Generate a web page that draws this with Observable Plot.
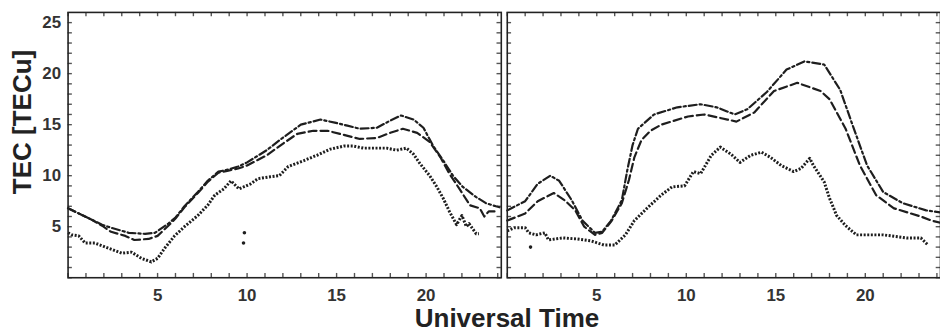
<!DOCTYPE html>
<html>
<head>
<meta charset="utf-8">
<script src="https://cdn.jsdelivr.net/npm/d3@7"></script>
<script src="https://cdn.jsdelivr.net/npm/@observablehq/plot@0.6"></script>
<style>
  html, body { margin: 0; padding: 0; background: #fff; overflow: hidden; }
  #wrap { position: relative; width: 940px; height: 332px; overflow: hidden; font-family: "Liberation Sans", Arial, sans-serif; }
  #chart { position: absolute; left: 0; top: 0; }
  #ylab { position: absolute; left: 22px; top: 122px; transform: translate(-50%, -50%) rotate(-90deg); font-size: 26px; font-weight: bold; color: #222; white-space: nowrap; line-height: 26px; }
  #xlab { position: absolute; left: 507px; top: 305px; transform: translateX(-50%); font-size: 26px; font-weight: bold; color: #222; white-space: nowrap; line-height: 26px; }
</style>
</head>
<body>
<div id="wrap">
  <div id="chart"></div>
  <div id="ylab">TEC [TECu]</div>
  <div id="xlab">Universal Time</div>
</div>
<script>
// ---- data: [hour (UT), TEC (TECu)] ----
const panels = ["L", "R"];
const xTickLabels = [5, 10, 15, 20];
const yTickLabels = [5, 10, 15, 20, 25];
const xMinorTicks = d3.range(0, 25);
const yMinorTicks = d3.range(0, 26);

const leftDotted = [[0,4.4],[0.2,4.2],[0.6,4.1],[0.95,3.4],[1.5,3.4],[2.25,2.9],[3.0,2.4],[3.55,2.5],[4.1,1.9],[4.65,1.55],[5.0,1.9],[5.4,2.9],[5.95,4.1],[6.5,5.0],[7.25,6.1],[7.8,7.1],[8.2,8.1],[8.7,8.7],[9.1,9.5],[9.55,8.7],[10.2,9.2],[10.6,9.7],[11.3,9.9],[11.8,10.0],[12.3,10.9],[13.2,11.5],[13.9,12.0],[14.65,12.6],[15.4,12.9],[15.95,12.9],[16.5,12.7],[17.8,12.7],[18.35,12.5],[18.9,12.7],[19.3,12.1],[19.65,11.2],[20.2,10.0],[20.6,8.9],[20.95,7.8],[21.3,6.5],[21.7,5.2],[22.0,6.1],[22.25,5.0],[22.4,5.3],[22.8,4.3],[22.95,4.3]];
const leftDashDot = [[0,6.8],[0.6,6.3],[1.3,5.7],[1.9,5.2],[2.4,4.9],[3.4,4.4],[4.3,4.3],[4.85,4.4],[5.6,5.3],[6.0,5.9],[6.5,7.0],[7.25,8.4],[7.8,9.5],[8.4,10.4],[8.95,10.6],[9.5,10.9],[10.0,11.3],[11.1,12.5],[11.9,13.6],[13.0,15.0],[14.1,15.5],[14.9,15.2],[15.6,14.9],[16.3,14.6],[17.25,14.7],[18.0,15.4],[18.6,15.9],[19.3,15.5],[19.85,14.7],[20.4,12.9],[20.95,11.5],[21.5,10.0],[22.05,8.9],[22.8,7.9],[23.35,7.3],[23.9,7.0],[24.1,6.9]];
const leftDashed = [[0,6.8],[0.6,6.3],[1.3,5.7],[1.9,5.1],[2.4,4.5],[3.2,4.1],[3.7,3.7],[4.5,3.8],[5.0,4.1],[5.6,5.1],[6.0,5.8],[6.5,6.9],[7.25,8.3],[7.8,9.4],[8.4,10.3],[8.95,10.5],[9.5,10.7],[10.0,11.0],[11.1,12.0],[12.05,13.2],[12.8,14.1],[13.7,14.4],[14.5,14.4],[15.4,14.0],[16.3,13.6],[17.25,13.7],[18.0,14.2],[18.7,14.6],[19.5,14.2],[20.2,13.3],[20.8,11.8],[21.3,10.2],[21.9,8.6],[22.45,7.1],[23.0,6.8],[23.25,6.0],[23.5,6.5],[23.9,6.5]];
const leftOutliers = [[9.85,4.4],[9.8,3.4]];

const rightDotted = [[0,4.6],[0.4,4.9],[1.0,4.9],[1.2,4.4],[1.6,4.2],[2.1,4.4],[2.3,3.7],[3.1,3.9],[3.9,3.8],[4.7,3.6],[5.4,3.2],[6.0,3.2],[6.6,4.2],[7.1,5.6],[7.8,6.8],[8.6,8.1],[9.2,8.9],[9.9,9.0],[10.4,10.4],[10.8,10.2],[11.4,12.0],[11.9,12.8],[12.5,12.1],[13.0,11.3],[13.6,12.0],[14.2,12.3],[14.7,11.8],[15.3,11.0],[16.0,10.4],[16.4,10.7],[16.9,11.7],[17.1,11.0],[17.7,9.4],[18.0,7.8],[18.4,6.1],[18.9,5.1],[19.5,4.2],[20.3,4.2],[21.0,4.2],[22.3,3.9],[23.1,3.9],[23.5,3.2]];
const rightDashed = [[0,5.6],[1.0,6.3],[1.7,7.5],[2.6,8.3],[3.2,7.6],[3.8,6.6],[4.3,5.0],[4.9,4.2],[5.3,4.4],[5.8,5.5],[6.4,7.3],[6.8,9.6],[7.1,11.8],[7.5,13.5],[8.0,14.4],[8.6,15.0],[10.1,15.8],[11.0,16.0],[12.3,15.5],[12.8,15.3],[13.8,16.2],[14.9,18.3],[16.2,19.1],[17.5,18.3],[18.0,17.5],[18.9,14.6],[19.7,11.0],[20.6,8.1],[21.6,6.8],[23.1,6.0],[23.7,5.6],[24.2,5.4]];
const rightDashDot = [[0,6.6],[1.0,7.5],[1.7,9.2],[2.4,10.0],[2.9,9.5],[3.6,7.6],[4.2,5.6],[4.9,4.4],[5.3,4.5],[5.8,5.6],[6.4,7.6],[6.7,10.5],[7.0,13.0],[7.3,14.6],[8.2,16.0],[9.5,16.7],[10.8,17.0],[11.7,16.7],[12.7,16.0],[13.4,16.5],[14.5,18.2],[15.6,20.4],[16.6,21.2],[17.7,20.9],[18.6,18.4],[19.3,14.9],[20.1,11.0],[21.0,8.4],[22.1,7.3],[23.4,6.6],[24.2,6.4]];
const rightOutliers = [[1.3,3.0]];

// ---- build tables ----
const toRows = (panel, arr) => arr.map(([hour, tec]) => ({panel, hour, tec}));
const dotted = [...toRows("L", leftDotted), ...toRows("R", rightDotted)];
const dashed = [...toRows("L", leftDashed), ...toRows("R", rightDashed)];
const dashDot = [...toRows("L", leftDashDot), ...toRows("R", rightDashDot)];
const outliers = [...toRows("L", leftOutliers), ...toRows("R", rightOutliers)];
const xTickRows = panels.flatMap(panel => xMinorTicks.map(v => ({panel, v})));
const yTickRows = panels.flatMap(panel => yMinorTicks.map(v => ({panel, v})));

const ink = "#1e1e1e";
const tickInk = "#555";
const labelStyle = {fontSize: 17, fontWeight: "bold", fill: "#333"};
const xMax = 24.2, yMax = 26;
const tx = 0.24, ty = 0.42; // inward tick length in data units (~4px)

const chart = Plot.plot({
  width: 946,
  height: 332,
  marginLeft: 68,
  marginRight: 0,
  marginTop: 12,
  marginBottom: 53,
  style: {fontFamily: "'Liberation Sans', Arial, sans-serif", background: "#fff"},
  x: {domain: [0, xMax]},
  y: {domain: [0, yMax]},
  fx: {domain: panels, axis: null, paddingInner: 0.0136, paddingOuter: 0, round: false},
  marks: [
    // inward minor ticks on the four sides of each panel
    Plot.ruleX(xTickRows, {x: "v", fx: "panel", y1: 0, y2: ty, stroke: tickInk, strokeWidth: 1.4}),
    Plot.ruleX(xTickRows, {x: "v", fx: "panel", y1: yMax - ty, y2: yMax, stroke: tickInk, strokeWidth: 1.4}),
    Plot.ruleY(yTickRows, {y: "v", fx: "panel", x1: 0, x2: tx, stroke: tickInk, strokeWidth: 1.4}),
    Plot.ruleY(yTickRows, {y: "v", fx: "panel", x1: xMax - tx, x2: xMax, stroke: tickInk, strokeWidth: 1.4}),
    // tick labels
    Plot.axisX({anchor: "bottom", ticks: xTickLabels, tickSize: 0, tickPadding: 11, ...labelStyle, label: null}),
    Plot.axisY({anchor: "left", ticks: yTickLabels, tickSize: 0, tickPadding: 7, ...labelStyle, label: null}),
    // data
    Plot.line(dashDot, {x: "hour", y: "tec", fx: "panel", stroke: ink, strokeWidth: 2.2, strokeDasharray: "8,3,2.2,3"}),
    Plot.line(dashed, {x: "hour", y: "tec", fx: "panel", stroke: ink, strokeWidth: 2.2, strokeDasharray: "8,4"}),
    Plot.line(dotted, {x: "hour", y: "tec", fx: "panel", stroke: ink, strokeWidth: 3, strokeDasharray: "2,1.6", strokeLinecap: "butt"}),
    Plot.dot(outliers, {x: "hour", y: "tec", fx: "panel", r: 1.8, fill: ink}),
    Plot.frame({stroke: "#222", strokeWidth: 1.6})
  ]
});
document.getElementById("chart").appendChild(chart);
</script>
</body>
</html>
